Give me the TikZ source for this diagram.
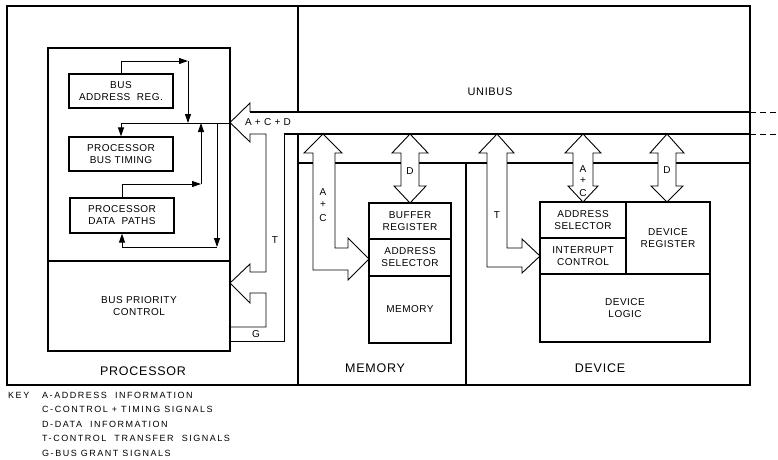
\documentclass[tikz,border=0pt]{standalone}
\usepackage{fontspec}
\setmainfont{Liberation Sans}
\newfontfamily\boxf{Liberation Sans}[LetterSpace=5]
\newfontfamily\keyf{Liberation Sans}[LetterSpace=17]
\newfontfamily\bigf{Liberation Sans}[LetterSpace=6]
\usetikzlibrary{arrows.meta}
\begin{document}
\begin{tikzpicture}[x=1pt,y=-1pt,
  frame/.style={line width=1.2pt},
  box/.style={draw,line width=1.2pt,align=center,inner sep=0pt,
    font={\boxf\fontsize{10}{12}\selectfont}},
  fat/.style={draw,line width=0.9pt,fill=white,line join=miter},
  thinline/.style={line width=0.9pt},
  arr/.style={thinline,-{Triangle[length=9pt,width=6pt]}},
  lbl/.style={font={\boxf\fontsize{10}{12}\selectfont},inner sep=0pt},
  big/.style={font={\bigf\fontsize{12.5}{14}\selectfont},inner sep=0pt},
  keytxt/.style={font={\keyf\fontsize{9}{10}\selectfont},inner sep=0pt,anchor=west},
  ext/.style={line width=0.8pt,dash pattern=on 6pt off 4pt}]
\useasboundingbox (0,0) rectangle (778,459);

% outer frames
\draw[frame] (298,112) -- (298,6) -- (7,6) -- (7,385) -- (750,385) -- (750,6) -- (298,6);
\draw[frame] (298,134) -- (298,385);
\draw[frame] (298,163) -- (750,163);
\draw[frame] (466,163) -- (466,385);

% unibus
\draw[frame] (250,112) -- (750,112);
\draw[frame] (284,134) -- (750,134);
\draw[ext] (750,112) -- (778,112);
\draw[ext] (750,134) -- (778,134);
\node[font={\bigf\fontsize{11}{13}\selectfont},inner sep=0pt] (unibus) at (490,92) {UNIBUS};

% processor
\node[box,minimum width=182,minimum height=213] (pin) at (139,154.5) {};
\node[box,minimum width=182,minimum height=90] (bpc) at (139,306) {BUS PRIORITY\\CONTROL};
\node[box,minimum width=104,minimum height=34] (bar) at (121,91) {BUS\\ADDRESS\ \ REG.};
\node[box,minimum width=104,minimum height=34] (pbt) at (121,154) {PROCESSOR\\BUS TIMING};
\node[box,minimum width=104,minimum height=35] (pdp) at (122,215.5) {PROCESSOR\\DATA\ \ PATHS};
\node[big] (proc) at (143,371) {PROCESSOR};

\coordinate (j1) at (188,61);
\coordinate (j2) at (188,123);
\coordinate (hr) at (230,123);
\coordinate (j4) at (201,184);
\coordinate (j5) at (201,123);
\coordinate (j6) at (217,123);
\coordinate (j7) at (217,247);
\draw[arr] (bar.north) |- (j1);
\draw[arr] (j1) -- (j2);
\draw[arr] (hr) -| (pbt.north);
\draw[arr] (pdp.north) |- (j4);
\draw[arr] (j4) -- (j5);
\draw[arr] (j6) -- (j7);
\draw[arr] (j7) -| (pdp.south);

% A+C+D arrow and T / G channel
\draw[fat,fill=none] (250,112) -- (250,103) -- (230,122.5) -- (250,142) -- (250,134) -- (266,134)
  -- (266,272) -- (250,272) -- (250,264) -- (230,283) -- (250,303) -- (250,293) -- (266,293)
  -- (266,327) -- (230,327);
\draw[fat,fill=none] (284,134) -- (284,341) -- (230,341);
\node[lbl] (acd) at (268,122.5) {A + C + D};
\node[lbl] (tp) at (275,240) {T};
\node[lbl] (gp) at (256,334) {G};

% memory
\node[box,minimum width=82,minimum height=36] (buf) at (410,221) {BUFFER\\REGISTER};
\node[box,minimum width=82,minimum height=37] (mas) at (410,257.5) {ADDRESS\\SELECTOR};
\node[box,minimum width=82,minimum height=67] (mem) at (410,309.5) {MEMORY};
\node[big] (memlbl) at (375,368) {MEMORY};

\draw[fat] (323,134) -- (342,153) -- (335,153) -- (335,248) -- (348,248) -- (348,238) -- (369,259)
  -- (348,280) -- (348,270) -- (313,270) -- (313,153) -- (304,153) -- cycle;
\node[lbl] at (323,192) {A};
\node[lbl] at (323,205) {+};
\node[lbl] at (323,218) {C};

\draw[fat] (410,134) -- (428,153) -- (419,153) -- (419,186) -- (426,186) -- (410,203)
  -- (394,186) -- (401,186) -- (401,153) -- (392,153) -- cycle;
\node[lbl] at (410,171) {D};

% device
\node[box,minimum width=86,minimum height=36] (das) at (583,220) {ADDRESS\\SELECTOR};
\node[box,minimum width=86,minimum height=36] (dic) at (583,256) {INTERRUPT\\CONTROL};
\node[box,minimum width=84,minimum height=72] (dreg) at (668,238) {DEVICE\\REGISTER};
\node[box,minimum width=170,minimum height=68] (dlog) at (625,308) {DEVICE\\LOGIC};
\node[big] (devlbl) at (600,368) {DEVICE};

\draw[fat] (497,134) -- (514,153) -- (507,153) -- (507,248) -- (522,248) -- (522,239) -- (540,256)
  -- (522,273) -- (522,267) -- (487,267) -- (487,153) -- (479,153) -- cycle;
\node[lbl] at (497,215) {T};

\draw[fat] (583,134) -- (601,153) -- (593,153) -- (593,186) -- (598,186) -- (583,202)
  -- (568,186) -- (573,186) -- (573,153) -- (565,153) -- cycle;
\node[lbl] at (583,169) {A};
\node[lbl] at (583,181) {+};
\node[lbl] at (583,193) {C};

\draw[fat] (667,134) -- (684,153) -- (676,153) -- (676,186) -- (683,186) -- (667,202)
  -- (651,186) -- (658,186) -- (658,153) -- (650,153) -- cycle;
\node[lbl] at (667,170) {D};

% key
\node[keytxt] (key) at (8,395) {KEY};
\node[keytxt] (ka) at (42,395) {A-ADDRESS\ \ INFORMATION};
\node[keytxt] (kc) at (42,409.5) {C-CONTROL + TIMING SIGNALS};
\node[keytxt] (kd) at (42,424) {D-DATA\ \ INFORMATION};
\node[keytxt] (kt) at (42,438.5) {T-CONTROL\ \ TRANSFER\ \ SIGNALS};
\node[keytxt] (kg) at (42,453) {G-BUS GRANT SIGNALS};
\end{tikzpicture}
\end{document}
